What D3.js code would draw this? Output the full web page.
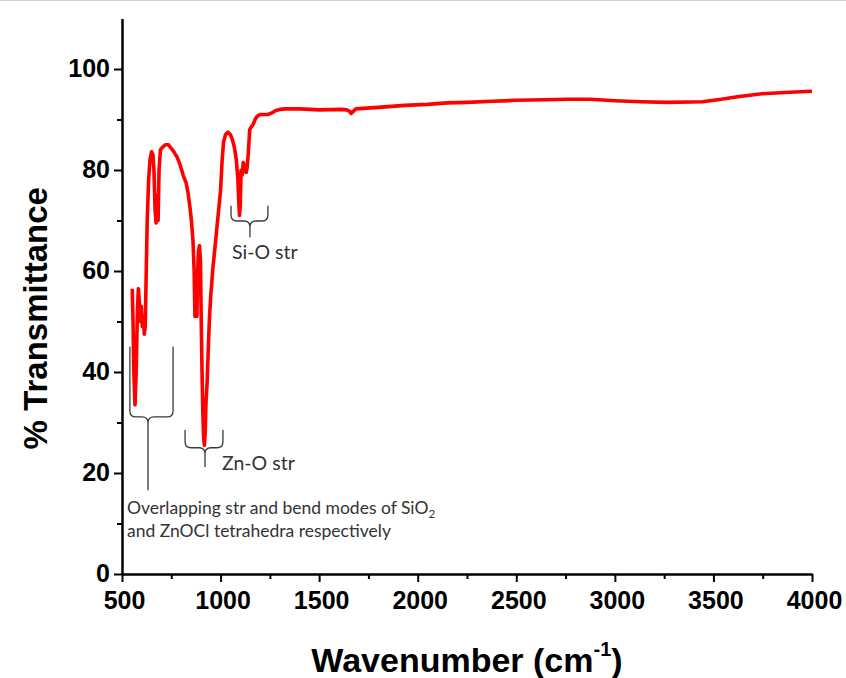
<!DOCTYPE html>
<html>
<head>
<meta charset="utf-8">
<script src="https://cdn.jsdelivr.net/npm/d3@7"></script>
<style>
  html, body { margin: 0; padding: 0; background: #fff; }
  svg { display: block; }
</style>
</head>
<body>
<svg id="chart" width="846" height="678"></svg>
<script>
// ---- Data ----
const wavenumber = [
  552, 556, 560, 566, 572, 578, 583, 588, 593, 598, 603, 608, 613, 618, 623, 628, 635, 642, 650, 657,
  662, 668, 673, 678, 683, 688, 695, 705, 720, 735, 750, 765, 780, 795, 810, 825, 835, 845, 852, 860,
  866, 870, 876, 880, 884, 888, 893, 898, 902, 906, 910, 914, 918, 922, 926, 932, 938, 944, 950, 956,
  962, 970, 980, 990, 1000, 1008, 1015, 1025, 1038, 1050, 1060, 1070, 1080, 1088, 1092, 1096, 1100, 1104, 1110, 1115,
  1120, 1125, 1130, 1135, 1140, 1148, 1155, 1165, 1175, 1185, 1200, 1220, 1240, 1260, 1280, 1300, 1330, 1403, 1500, 1616,
  1640, 1655, 1662, 1687, 1800, 1936, 2050, 2149, 2250, 2380, 2500, 2646, 2760, 2876, 3001, 3130, 3267, 3445, 3540, 3622,
  3746, 3888, 4000
];
const transmittance = [
  56.5, 50, 40, 33.5, 40, 52, 56.5, 54, 50, 53, 49, 51, 47.5, 49, 60, 70, 78, 82, 83.6, 83,
  80, 72, 69.5, 75, 70, 80, 84, 84.5, 85, 85, 84.3, 83.5, 82.5, 81, 79, 77.5, 75.5, 72.5, 70, 66,
  60, 51, 55, 51, 60, 64, 65, 62, 50, 40, 32, 27, 25.5, 28, 34, 38, 45, 51, 55, 58,
  61, 64, 68, 72, 76, 82, 85.5, 87, 87.5, 87, 86, 84.5, 82, 78, 74, 71, 73, 80, 79, 81.5,
  80, 81, 79.5, 80.5, 83, 88, 88.5, 89, 90, 90.6, 91, 91, 91, 91.3, 91.8, 92, 92.1, 92.1, 91.9, 92,
  91.9, 91.6, 91.2, 92.1, 92.4, 92.8, 93.0, 93.3, 93.4, 93.6, 93.8, 93.9, 94.0, 94.0, 93.7, 93.5, 93.4, 93.5, 94.0, 94.5,
  95.1, 95.4, 95.6
];
const xMajorTicks = [500, 1000, 1500, 2000, 2500, 3000, 3500, 4000];
const xMinorTicks = [750, 1250, 1750, 2250, 2750, 3250, 3750];
const yMajorTicks = [0, 20, 40, 60, 80, 100];
const yMinorTicks = [10, 30, 50, 70, 90];

// annotation braces, in data units
const braceLabels = ["Overlapping modes", "Zn-O str", "Si-O str"];
const braceX0   = [540, 820, 1053];
const braceX1   = [759, 1012, 1240];
const braceXm   = [632, 921, 1149];
const braceYTop = [45, 28.5, 72.9];
const braceYMid = [31.1, 25.0, 69.9];
const braceYTip = [16.6, 21.2, 66.7];

// ---- Layout ----
const svg = d3.select("#chart");
const mLeft = 122, mRight = 812, mTop = 18.5, mBottom = 574;

const x = d3.scaleLinear().domain([500, 4000]).range([mLeft, mRight]);
const y = d3.scaleLinear().domain([0, 110]).range([mBottom, mTop]);

// faint screenshot border at the top
svg.append("line").attr("x1", 0).attr("x2", 846).attr("y1", 0.5).attr("y2", 0.5)
  .attr("stroke", "#d0d0d0").attr("stroke-width", 1);

// ---- Axes ----
const tickFont = "'Liberation Sans', Arial, sans-serif";
const fmt = d3.format("d");

const gx = svg.append("g").attr("transform", `translate(0,${mBottom})`)
  .call(d3.axisBottom(x).tickValues(xMajorTicks).tickFormat(fmt).tickSize(8).tickSizeOuter(0).tickPadding(9));
gx.selectAll(".tick text").attr("dx", 2);
svg.append("g").attr("transform", `translate(0,${mBottom})`)
  .call(d3.axisBottom(x).tickValues(xMinorTicks).tickSize(5).tickSizeOuter(0).tickFormat(""));

const gy = svg.append("g").attr("transform", `translate(${mLeft},0)`)
  .call(d3.axisLeft(y).tickValues(yMajorTicks).tickFormat(fmt).tickSize(8).tickSizeOuter(0).tickPadding(4));
gy.selectAll(".tick text").attr("dy", "0.3em");
svg.append("g").attr("transform", `translate(${mLeft},0)`)
  .call(d3.axisLeft(y).tickValues(yMinorTicks).tickSize(5).tickSizeOuter(0).tickFormat(""));

svg.selectAll(".domain").attr("stroke", "#000").attr("stroke-width", 2);
svg.selectAll(".tick line").attr("stroke", "#000").attr("stroke-width", 2);
svg.selectAll(".tick text")
  .attr("font-family", tickFont).attr("font-weight", "bold")
  .attr("font-size", 25).attr("fill", "#000");

// ---- Axis titles ----
svg.append("text")
  .attr("transform", `translate(47,${(mTop + mBottom) / 2 + 22}) rotate(-90)`)
  .attr("text-anchor", "middle")
  .attr("font-family", tickFont).attr("font-weight", "bold").attr("font-size", 33)
  .text("% Transmittance");

const xt = svg.append("text")
  .attr("x", 467).attr("y", 672)
  .attr("text-anchor", "middle")
  .attr("font-family", tickFont).attr("font-weight", "bold").attr("font-size", 34);
xt.append("tspan").text("Wavenumber (cm");
xt.append("tspan").attr("font-size", 20).attr("dy", -16).text("-1");
xt.append("tspan").attr("dy", 16).text(")");

// ---- Spectrum ----
const pts = wavenumber.map((w, i) => [w, transmittance[i]]);
svg.append("path")
  .datum(pts)
  .attr("fill", "none")
  .attr("stroke", "#ff0000")
  .attr("stroke-width", 3.6)
  .attr("stroke-linejoin", "round")
  .attr("d", d3.line().x(d => x(d[0])).y(d => y(d[1])));

// ---- Braces ----
const r = 6;
braceLabels.forEach((lab, i) => {
  const x0 = x(braceX0[i]), x1 = x(braceX1[i]), xm = x(braceXm[i]);
  const yt = y(braceYTop[i]), ym = y(braceYMid[i]), yp = y(braceYTip[i]);
  const d = `M${x0},${yt} L${x0},${ym - r} Q${x0},${ym} ${x0 + r},${ym} L${xm - r},${ym} Q${xm},${ym} ${xm},${ym + r} L${xm},${yp}` +
            ` M${x1},${yt} L${x1},${ym - r} Q${x1},${ym} ${x1 - r},${ym} L${xm + r},${ym} Q${xm},${ym} ${xm},${ym + r}`;
  svg.append("path").attr("d", d).attr("fill", "none")
    .attr("stroke", "#3a3a3a").attr("stroke-width", 1.3);
});

// ---- Annotation text ----
const annFont = "Lato, 'Open Sans', sans-serif";
svg.append("text").attr("x", 232).attr("y", 259)
  .attr("font-family", annFont).attr("font-size", 19.5).attr("fill", "#333")
  .text("Si-O str");
svg.append("text").attr("x", 222).attr("y", 470)
  .attr("font-family", annFont).attr("font-size", 19.5).attr("fill", "#333")
  .text("Zn-O str");
const t1 = svg.append("text").attr("x", 127).attr("y", 514)
  .attr("font-family", annFont).attr("font-size", 17.5).attr("fill", "#333");
t1.append("tspan").text("Overlapping str and bend modes of SiO");
t1.append("tspan").attr("font-size", 11.5).attr("dy", 3.5).text("2");
svg.append("text").attr("x", 127).attr("y", 537)
  .attr("font-family", annFont).attr("font-size", 17.5).attr("fill", "#333")
  .text("and ZnOCl tetrahedra respectively");
</script>
</body>
</html>
